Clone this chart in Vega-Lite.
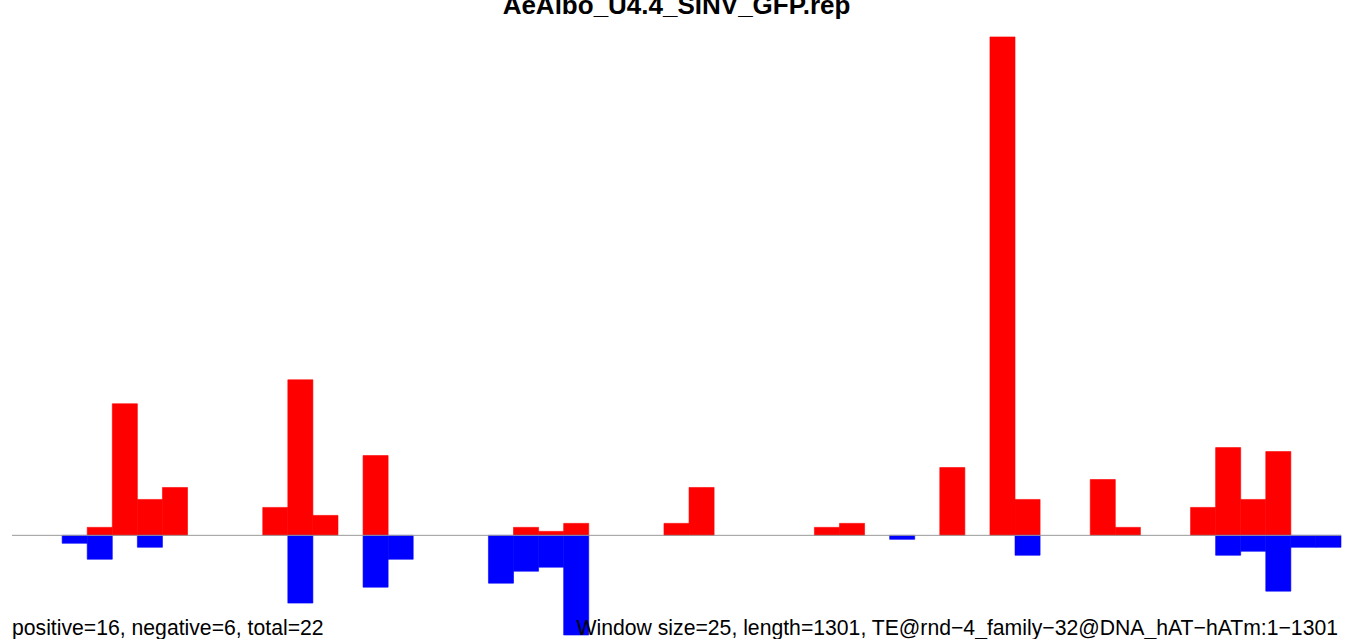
{
  "$schema": "https://vega.github.io/schema/vega-lite/v6.json",
  "width": 1329,
  "height": 626,
  "autosize": {"type": "none"},
  "padding": {"left": 12, "top": 13, "right": 8, "bottom": 0},
  "background": "white",
  "config": {"view": {"stroke": null}},
  "title": {
    "text": "AeAlbo_U4.4_SINV_GFP.rep",
    "font": "Liberation Sans",
    "fontSize": 26,
    "fontWeight": "bold",
    "color": "#000000",
    "anchor": "middle",
    "baseline": "alphabetic",
    "offset": 0,
    "dy": 27
  },
  "datasets": {
    "bars": [
      {"window": 3, "start": 75, "end": 100, "strand": "+", "value": 2},
      {"window": 4, "start": 100, "end": 125, "strand": "+", "value": 33},
      {"window": 5, "start": 125, "end": 150, "strand": "+", "value": 9},
      {"window": 6, "start": 150, "end": 175, "strand": "+", "value": 12},
      {"window": 10, "start": 250, "end": 275, "strand": "+", "value": 7},
      {"window": 11, "start": 275, "end": 300, "strand": "+", "value": 39},
      {"window": 12, "start": 300, "end": 325, "strand": "+", "value": 5},
      {"window": 14, "start": 350, "end": 375, "strand": "+", "value": 20},
      {"window": 20, "start": 500, "end": 525, "strand": "+", "value": 2},
      {"window": 21, "start": 525, "end": 550, "strand": "+", "value": 1},
      {"window": 22, "start": 550, "end": 575, "strand": "+", "value": 3},
      {"window": 26, "start": 650, "end": 675, "strand": "+", "value": 3},
      {"window": 27, "start": 675, "end": 700, "strand": "+", "value": 12},
      {"window": 32, "start": 800, "end": 825, "strand": "+", "value": 2},
      {"window": 33, "start": 825, "end": 850, "strand": "+", "value": 3},
      {"window": 37, "start": 925, "end": 950, "strand": "+", "value": 17},
      {"window": 39, "start": 975, "end": 1000, "strand": "+", "value": 125},
      {"window": 40, "start": 1000, "end": 1025, "strand": "+", "value": 9},
      {"window": 43, "start": 1075, "end": 1100, "strand": "+", "value": 14},
      {"window": 44, "start": 1100, "end": 1125, "strand": "+", "value": 2},
      {"window": 47, "start": 1175, "end": 1200, "strand": "+", "value": 7},
      {"window": 48, "start": 1200, "end": 1225, "strand": "+", "value": 22},
      {"window": 49, "start": 1225, "end": 1250, "strand": "+", "value": 9},
      {"window": 50, "start": 1250, "end": 1275, "strand": "+", "value": 21},
      {"window": 2, "start": 50, "end": 75, "strand": "-", "value": -2},
      {"window": 3, "start": 75, "end": 100, "strand": "-", "value": -6},
      {"window": 5, "start": 125, "end": 150, "strand": "-", "value": -3},
      {"window": 11, "start": 275, "end": 300, "strand": "-", "value": -17},
      {"window": 14, "start": 350, "end": 375, "strand": "-", "value": -13},
      {"window": 15, "start": 375, "end": 400, "strand": "-", "value": -6},
      {"window": 19, "start": 475, "end": 500, "strand": "-", "value": -12},
      {"window": 20, "start": 500, "end": 525, "strand": "-", "value": -9},
      {"window": 21, "start": 525, "end": 550, "strand": "-", "value": -8},
      {"window": 22, "start": 550, "end": 575, "strand": "-", "value": -25},
      {"window": 35, "start": 875, "end": 900, "strand": "-", "value": -1},
      {"window": 40, "start": 1000, "end": 1025, "strand": "-", "value": -5},
      {"window": 48, "start": 1200, "end": 1225, "strand": "-", "value": -5},
      {"window": 49, "start": 1225, "end": 1250, "strand": "-", "value": -4},
      {"window": 50, "start": 1250, "end": 1275, "strand": "-", "value": -14},
      {"window": 51, "start": 1275, "end": 1300, "strand": "-", "value": -3},
      {"window": 52, "start": 1300, "end": 1325, "strand": "-", "value": -3}
    ]
  },
  "layer": [
    {
      "data": {"name": "bars"},
      "mark": {"type": "rect", "strokeWidth": 0.6},
      "encoding": {
        "x": {"field": "start", "type": "quantitative", "scale": {"domain": [0, 1325], "nice": false, "zero": false}, "axis": null},
        "x2": {"field": "end"},
        "y": {"field": "value", "type": "quantitative", "scale": {"domain": [-26, 131], "nice": false, "zero": false}, "axis": null},
        "y2": {"datum": 0},
        "color": {"field": "strand", "type": "nominal", "scale": {"domain": ["+", "-"], "range": ["#FF0000", "#0000FF"]}, "legend": null},
        "stroke": {"field": "strand", "type": "nominal", "scale": {"domain": ["+", "-"], "range": ["#FF0000", "#0000FF"]}, "legend": null}
      }
    },
    {
      "data": {"values": [{}]},
      "mark": {"type": "rule", "color": "#999999", "strokeWidth": 1},
      "encoding": {
        "x": {"datum": 0},
        "x2": {"datum": 1325},
        "y": {"datum": 0}
      }
    },
    {
      "data": {"values": [{}]},
      "mark": {"type": "text", "font": "Liberation Sans", "fontSize": 21.2, "align": "left", "baseline": "alphabetic", "color": "#000000"},
      "encoding": {
        "x": {"datum": 0},
        "y": {"datum": -25},
        "text": {"value": "positive=16, negative=6, total=22"}
      }
    },
    {
      "data": {"values": [{}]},
      "mark": {"type": "text", "font": "Liberation Sans", "fontSize": 21.2, "align": "right", "baseline": "alphabetic", "dx": -3, "color": "#000000"},
      "encoding": {
        "x": {"datum": 1325},
        "y": {"datum": -25},
        "text": {"value": "Window size=25, length=1301, TE@rnd−4_family−32@DNA_hAT−hATm:1−1301"}
      }
    }
  ]
}
